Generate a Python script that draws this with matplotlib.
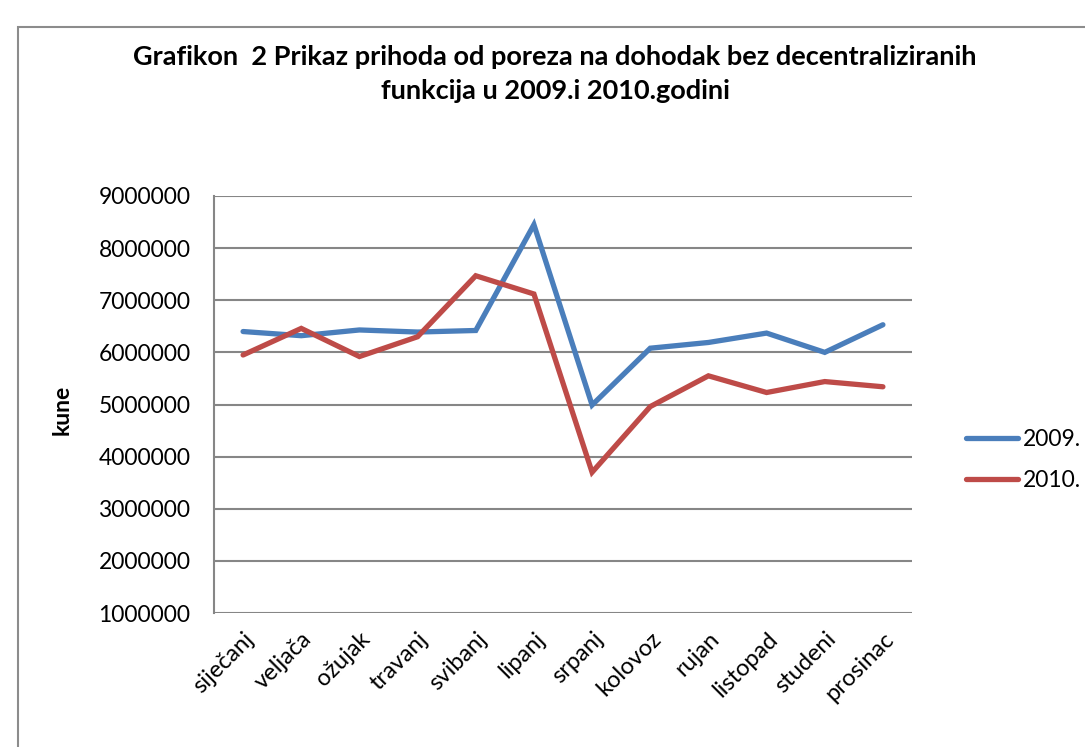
import numpy as np
import matplotlib.pyplot as plt
from matplotlib.patches import Rectangle
from matplotlib.ticker import FixedLocator

months = ['siječanj', 'veljača', 'ožujak', 'travanj', 'svibanj', 'lipanj',
          'srpanj', 'kolovoz', 'rujan', 'listopad', 'studeni', 'prosinac']
y2009 = [6400000, 6320000, 6430000, 6390000, 6420000, 8450000,
         4990000, 6080000, 6190000, 6370000, 6000000, 6530000]
y2010 = [5950000, 6460000, 5920000, 6300000, 7470000, 7120000,
         3700000, 4960000, 5550000, 5230000, 5440000, 5340000]
yticks = [1000000, 2000000, 3000000, 4000000, 5000000,
          6000000, 7000000, 8000000, 9000000]

plt.rcParams['font.family'] = ['Lato', 'DejaVu Sans']

W, H = 1085, 747
fig = plt.figure(figsize=(W / 100, H / 100), dpi=100)

# chart frame (runs off the right and bottom edges)
fig.patches.append(Rectangle((18 / W, -0.05), 1.2, 1 - 27 / H + 0.05,
                             transform=fig.transFigure, fill=False,
                             edgecolor='#8c8c8c', linewidth=1.5))

ax = fig.add_axes([214 / W, 1 - 613 / H, (912 - 214) / W, (613 - 196) / H])
x = np.arange(len(months))
ax.plot(x, y2009, color='#4A7EBB', linewidth=3.8, label='2009.',
        solid_capstyle='round', solid_joinstyle='miter')
ax.plot(x, y2010, color='#BE4B48', linewidth=3.8, label='2010.',
        solid_capstyle='round', solid_joinstyle='miter')

ax.set_xlim(-0.5, len(months) - 0.5)
ax.set_ylim(1000000, 9000000)
ax.yaxis.set_major_locator(FixedLocator(yticks))
ax.set_yticklabels([str(v) for v in yticks], fontsize=16.5)
ax.set_xticks(x)
ax.set_xticklabels(months, rotation=45, ha='right', rotation_mode='anchor',
                   fontsize=17)
ax.tick_params(axis='both', length=0)
ax.tick_params(axis='y', pad=17)
ax.tick_params(axis='x', pad=11)
ax.grid(True, axis='y', color='#868686', linewidth=1.5)
ax.set_axisbelow(True)
for s in ['top', 'right']:
    ax.spines[s].set_visible(False)
ax.spines['bottom'].set_visible(False)
ax.spines['left'].set_color('#868686')
ax.spines['left'].set_linewidth(1.5)

fig.text(62 / W, 1 - 410 / H, 'kune', rotation=90, fontsize=16.5,
         fontweight='bold', ha='center', va='center')

fig.text(555 / W, 1 - 57 / H,
         'Grafikon  2 Prikaz prihoda od poreza na dohodak bez decentraliziranih',
         fontsize=19.5, fontweight='bold', ha='center', va='center')
fig.text(555 / W, 1 - 91 / H, 'funkcija u 2009.i 2010.godini',
         fontsize=19.5, fontweight='bold', ha='center', va='center')

fig.legend(loc='center left', bbox_to_anchor=(945 / W, 1 - 460 / H),
           frameon=False, fontsize=16.5, handlelength=2.3, handletextpad=0.2,
           labelspacing=0.9)

fig.savefig('out.png', dpi=100)
